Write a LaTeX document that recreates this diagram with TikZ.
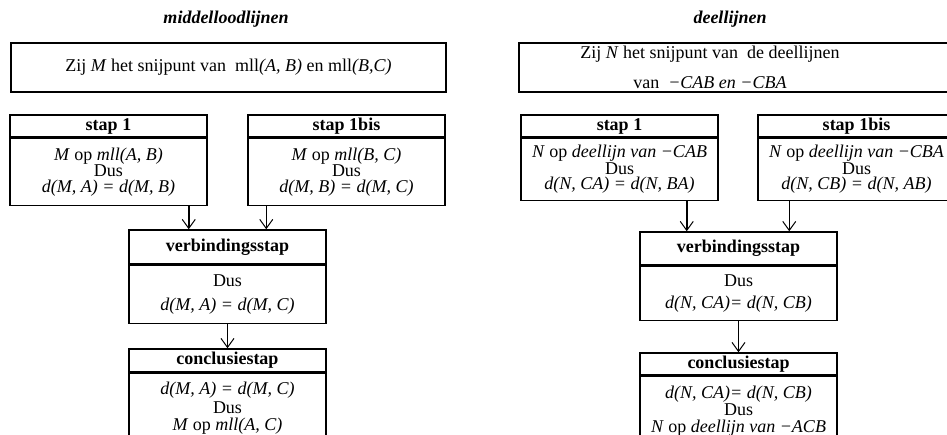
\documentclass[tikz,border=0pt]{standalone}
\usepackage{fontspec}
\setmainfont{Liberation Serif}
\usetikzlibrary{arrows.meta}

\begin{document}
\begin{tikzpicture}[x=1pt, y=-1pt,
    font=\fontsize{18}{15.5}\selectfont,
    box/.style={draw, line width=1.5pt, inner sep=0pt, align=center},
    head/.style={box, minimum height=22pt, font=\fontsize{18}{15.5}\selectfont\bfseries},
    arr/.style={line width=1.5pt, -{Straight Barb[length=9pt, width=13pt, line width=1pt]}}]
    \useasboundingbox (0,0) rectangle (947,434);
    \clip (0,0) rectangle (947,434);

    % middelloodlijnen
    \node (titleL) at (226,19) {\textbf{\textit{middelloodlijnen}}};
    \node[box, minimum width=435pt, minimum height=49pt] (topL) at (228.5,67.5)
        {Zij \textit{M} het snijpunt van\ \ mll\textit{(A, B)} en mll\textit{(B,C)}};

    \node[head, minimum width=197pt] (s1Lh) at (108.5,126) {stap 1};
    \node[box, minimum width=197pt, minimum height=67pt, anchor=north] (s1Lb) at (s1Lh.south)
        {\textit{M} op \textit{mll(A, B)}\\Dus\\\textit{d(M, A) = d(M, B)}};
    \node[head, minimum width=197pt] (s2Lh) at (346.5,126) {stap 1bis};
    \node[box, minimum width=197pt, minimum height=67pt, anchor=north] (s2Lb) at (s2Lh.south)
        {\textit{M} op \textit{mll(B, C)}\\Dus\\\textit{d(M, B) = d(M, C)}};

    \node[head, minimum width=197pt, minimum height=34pt] (vLh) at (227.5,247) {verbindingsstap};
    \node[box, minimum width=197pt, minimum height=58pt, anchor=north] (vLb) at (vLh.south)
        {Dus\\[9pt]\textit{d(M, A) = d(M, C)}};

    \node[head, minimum width=197pt, minimum height=23pt] (cLh) at (227.5,360.5) {conclusiestap};
    \node[box, minimum width=197pt, minimum height=70pt, anchor=north] (cLb) at (cLh.south)
        {\textit{d(M, A) = d(M, C)}\\[2pt]Dus\\[2pt]\textit{M} op \textit{mll(A, C)}};

    \draw[arr] ([xshift=-19pt]s1Lb.south east) -- ([xshift=-19pt]s1Lb.south east |- vLh.north);
    \draw[arr] ([xshift=19pt]s2Lb.south west) -- ([xshift=19pt]s2Lb.south west |- vLh.north);
    \draw[arr] (vLb.south) -- (cLh.north);

    % deellijnen
    \node (titleR) at (730,19) {\textbf{\textit{deellijnen}}};
    \node[box, minimum width=441pt, minimum height=49pt] (topR) at (739.5,67.5) {};
    \node[align=center, font=\fontsize{18}{30}\selectfont] (topRtxt) at (710,67.5)
        {Zij \textit{N} het snijpunt van\ \ de deellijnen\\van\ \ \textit{−CAB en −CBA}};

    \node[head, minimum width=197pt] (s1Rh) at (619.5,126) {stap 1};
    \node[box, minimum width=197pt, minimum height=62pt, anchor=north] (s1Rb) at (s1Rh.south)
        {\textit{N} op \textit{deellijn van −CAB}\\Dus\\\textit{d(N, CA) = d(N, BA)}};
    \node[head, minimum width=197pt] (s2Rh) at (856.5,126) {stap 1bis};
    \node[box, minimum width=197pt, minimum height=62pt, anchor=north] (s2Rb) at (s2Rh.south)
        {\textit{N} op \textit{deellijn van −CBA}\\Dus\\\textit{d(N, CB) = d(N, AB)}};

    \node[head, minimum width=197pt, minimum height=33pt] (vRh) at (738.5,248.5) {verbindingsstap};
    \node[box, minimum width=197pt, minimum height=54pt, anchor=north] (vRb) at (vRh.south)
        {Dus\\[7pt]\textit{d(N, CA)= d(N, CB)}};

    \node[head, minimum width=197pt, minimum height=22pt] (cRh) at (738.5,364) {conclusiestap};
    \node[box, minimum width=197pt, minimum height=70pt, anchor=north] (cRb) at (cRh.south)
        {\textit{d(N, CA)= d(N, CB)}\\Dus\\[2pt]\textit{N} op \textit{deellijn van −ACB}};

    \draw[arr] ([xshift=-32pt]s1Rb.south east) -- ([xshift=-32pt]s1Rb.south east |- vRh.north);
    \draw[arr] ([xshift=32pt]s2Rb.south west) -- ([xshift=32pt]s2Rb.south west |- vRh.north);
    \draw[arr] (vRb.south) -- (cRh.north);
\end{tikzpicture}
\end{document}
